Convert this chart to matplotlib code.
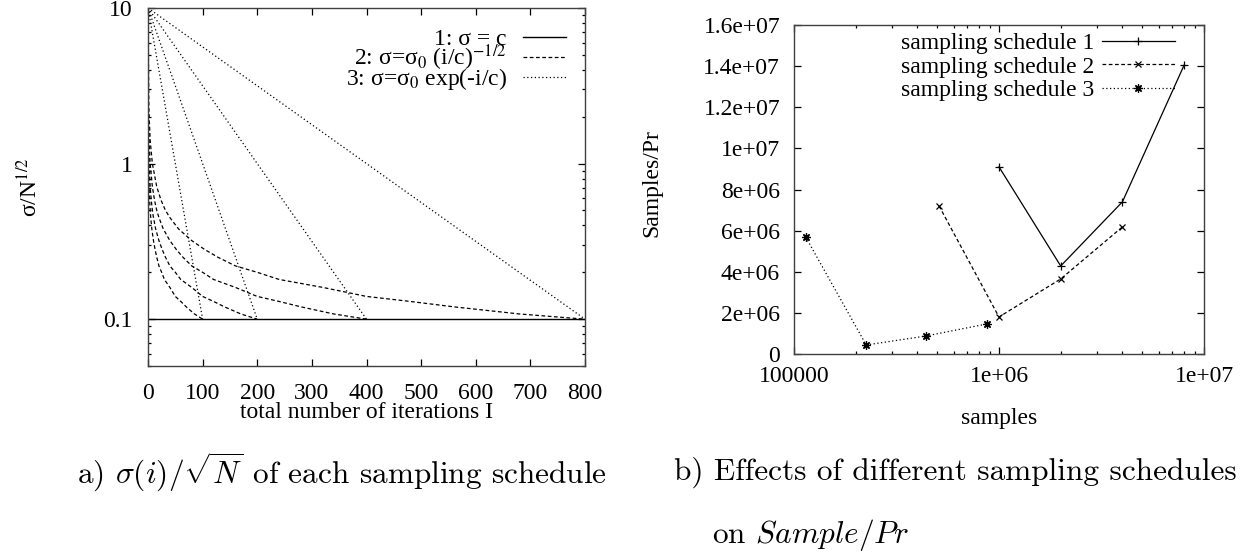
import matplotlib
matplotlib.use("Agg")
import matplotlib.pyplot as plt
from matplotlib.ticker import NullFormatter, LogLocator

plt.rcParams['font.family'] = ['Liberation Serif', 'DejaVu Serif']
plt.rcParams['mathtext.fontset'] = 'stix'

# ---- panel a) sigma/N^(1/2) of each schedule ----
total_iters = [100, 200, 400, 800]

sched1_x = [0, 800]
sched1_y = [0.1, 0.1]

# schedule 2
sched2_x = {
    100: [0.01, 0.2, 0.5, 1, 2, 3, 4, 5, 7, 10, 13, 16, 20, 25, 30, 40, 50, 60, 70, 85, 100],
    200: [0.02, 0.4, 1, 2, 4, 6, 8, 10, 14, 20, 26, 32, 40, 50, 60, 80, 100, 120, 140, 170, 200],
    400: [0.04, 0.8, 2, 4, 8, 12, 16, 20, 28, 40, 52, 64, 80, 100, 120, 160, 200, 240, 280, 340, 400],
    800: [0.08, 1.6, 4, 8, 16, 24, 32, 40, 56, 80, 104, 128, 160, 200, 240, 320, 400, 480, 560, 680, 800],
}
sched2_y = [10, 2.24, 1.41, 1.0, 0.71, 0.58, 0.5, 0.45, 0.38, 0.32, 0.28,
            0.25, 0.22, 0.2, 0.18, 0.16, 0.14, 0.13, 0.12, 0.108, 0.1]

# schedule 3, straight dotted lines on the log axis
sched3_y = [10, 0.1]

yticks_a = [0.1, 1, 10]
yticklabels_a = ['0.1', '1', '10']
xticks_a = [0, 100, 200, 300, 400, 500, 600, 700, 800]

# ---- panel b) Samples/Pr per schedule ----
s1_x = [1.0e6, 2.0e6, 4.0e6, 8.0e6]
s1_y = [9.1e6, 4.28e6, 7.4e6, 1.405e7]
s2_x = [5.1e5, 1.0e6, 2.0e6, 4.0e6]
s2_y = [7.2e6, 1.8e6, 3.65e6, 6.18e6]
s3_x = [1.14e5, 2.25e5, 4.4e5, 8.7e5]
s3_y = [5.69e6, 0.44e6, 0.875e6, 1.46e6]

xticks_b = [1e5, 1e6, 1e7]
xticklabels_b = ['100000', '1e+06', '1e+07']
yticks_b = [0, 2e6, 4e6, 6e6, 8e6, 1e7, 1.2e7, 1.4e7, 1.6e7]
yticklabels_b = ['0', '2e+06', '4e+06', '6e+06', '8e+06', '1e+07',
                 '1.2e+07', '1.4e+07', '1.6e+07']

FS = 17
CAP_FS = 22.5
W, H = 1247, 554
dashed = (0, (3, 2))
dotted = (0, (1, 2))
spine_col = '#404040'

fig = plt.figure(figsize=(W / 100, H / 100), dpi=100)
ax1 = fig.add_axes([148/W, 1-366/H, 437/W, 358/H])
ax2 = fig.add_axes([794/W, 1-354/H, 410/W, 329/H])

# panel a
ax1.plot(sched1_x, sched1_y, color='black', lw=1.0, label='1: σ = c')
for k, I in enumerate(total_iters):
    ax1.plot(sched2_x[I], sched2_y, color='black', lw=0.9, ls=dashed,
             label='2: σ=σ$_0$ (i/c)$^{-1/2}$' if k == 0 else None)
for k, I in enumerate(total_iters):
    ax1.plot([0, I], sched3_y, color='black', lw=0.9, ls=dotted,
             label='3: σ=σ$_0$ exp(-i/c)' if k == 0 else None)

ax1.set_yscale('log')
ax1.set_xlim(0, 800)
ax1.set_ylim(0.05, 10)
ax1.set_xticks(xticks_a)
ax1.set_yticks(yticks_a, yticklabels_a)
ax1.yaxis.set_minor_locator(LogLocator(subs=range(2, 10)))
ax1.yaxis.set_minor_formatter(NullFormatter())
ax1.tick_params(axis='x', which='both', direction='in', top=True, pad=12,
                labelsize=FS, length=5, width=0.9)
ax1.tick_params(axis='y', which='both', direction='in', right=True, pad=11,
                labelsize=FS, width=0.9)
ax1.tick_params(axis='y', which='major', length=5)
ax1.tick_params(axis='y', which='minor', length=2.5)
ax1.set_xlabel('total number of iterations I', fontsize=FS)
ax1.xaxis.set_label_coords(0.5, -0.10)
ax1.set_ylabel('σ/N$^{1/2}$', fontsize=FS)
ax1.yaxis.set_label_coords(-0.243, 0.5)
ax1.legend(loc='upper right', bbox_to_anchor=(0.9565, 0.943), frameon=False,
           markerfirst=False, handlelength=1.8, handletextpad=0.7,
           labelspacing=-0.3, borderpad=0, borderaxespad=0, fontsize=FS)

# panel b
ax2.plot(s1_x, s1_y, color='black', lw=0.9, marker='+', ms=6, mew=0.9,
         label='sampling schedule 1')
ax2.plot(s2_x, s2_y, color='black', lw=0.9, ls=dashed, marker='x', ms=5,
         mew=0.9, label='sampling schedule 2')
ax2.plot(s3_x, s3_y, color='black', lw=0.9, ls=dotted, marker=(8, 2, 0),
         ms=6, mew=0.9, label='sampling schedule 3')

ax2.set_xscale('log')
ax2.set_xlim(1e5, 1e7)
ax2.set_ylim(0, 1.6e7)
ax2.set_xticks(xticks_b, xticklabels_b)
ax2.xaxis.set_minor_formatter(NullFormatter())
ax2.set_yticks(yticks_b, yticklabels_b)
ax2.tick_params(axis='x', which='both', direction='in', top=True, pad=9,
                labelsize=FS, width=0.9)
ax2.tick_params(axis='x', which='major', length=5)
ax2.tick_params(axis='x', which='minor', length=2.5)
ax2.tick_params(axis='y', direction='in', right=True, pad=10, labelsize=FS,
                length=5, width=0.9)
ax2.set_xlabel('samples', fontsize=FS)
ax2.xaxis.set_label_coords(0.5, -0.164)
ax2.set_ylabel('Samples/Pr', fontsize=FS)
ax2.yaxis.set_label_coords(-0.32, 0.52)
ax2.legend(loc='upper right', bbox_to_anchor=(0.929, 0.977), frameon=False,
           markerfirst=False, handlelength=3.1, handletextpad=0.3,
           labelspacing=0.09, borderpad=0, borderaxespad=0, fontsize=FS)

for ax in (ax1, ax2):
    for sp in ax.spines.values():
        sp.set_color(spine_col)
        sp.set_linewidth(1.0)

# captions
cap = dict(family='cmr10', math_fontfamily='cm', fontsize=CAP_FS, va='center')
fig.text(77/W, 1-472/H, r'a) $\sigma(i)/\sqrt{N}$ of each sampling schedule', **cap)
fig.text(674/W, 1-472/H, 'b) Effects of different sampling schedules', **cap)
fig.text(712/W, 1-535/H, r'on $Sample/Pr$', **cap)

fig.savefig('out.png', dpi=100)
